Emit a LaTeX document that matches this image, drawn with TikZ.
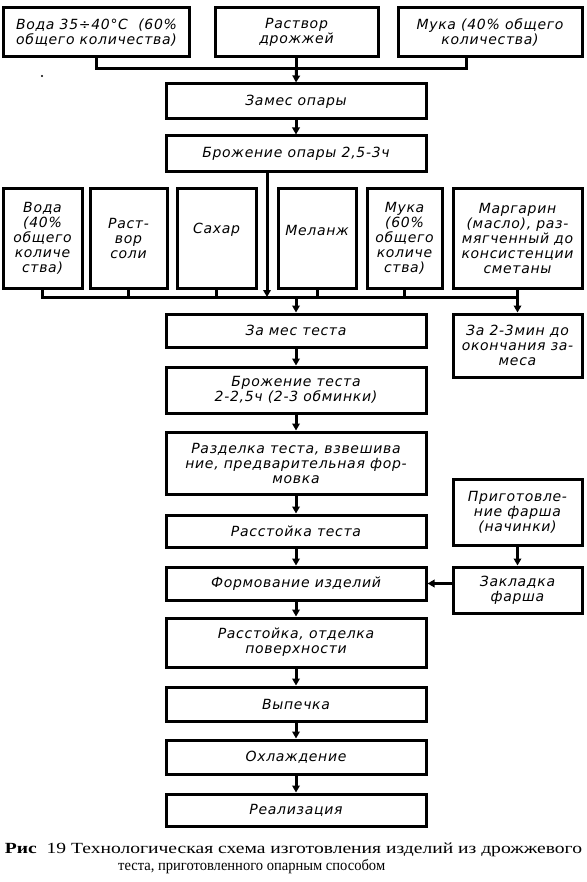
\documentclass[tikz,border=0pt]{standalone}
\usepackage{fontspec}
\usepackage{graphicx}
\setmainfont{DejaVu Sans}
\newfontfamily\gost[LetterSpace=5]{DejaVu Sans Oblique}
\newfontfamily\capserif{Liberation Serif}
\usetikzlibrary{arrows.meta}
\tikzset{
  bx/.style={draw, line width=3pt, inner sep=1pt, align=center,
    font=\gost\fontsize{14}{15}\selectfont},
  tx/.style={inner sep=0pt, align=center, font=\gost\fontsize{14}{15}\selectfont},
  ln/.style={line width=3pt},
  arr/.style={line width=3pt, -{Triangle[length=7pt,width=7.5pt]}},
  capt/.style={inner sep=0pt, font=\capserif\fontsize{15.5}{17}\selectfont}
}
\begin{document}
\begin{tikzpicture}[x=1pt,y=-1pt]
\useasboundingbox (0,0) rectangle (586,882);
% top row
\node[bx, minimum width=186pt, minimum height=49pt] (A) at (96.5,32.5) {Вода 35÷40°С \ (60\%\\общего количества)};
\node[bx, minimum width=163pt, minimum height=49pt] (B) at (296.5,32.5) {Раствор\\дрожжей};
\node[bx, minimum width=184pt, minimum height=49pt] (C) at (490,32.5) {Мука (40\% общего\\количества)};
\node[bx, minimum width=260pt, minimum height=35pt] (zo) at (296,101.5) {Замес опары};
\node[bx, minimum width=260pt, minimum height=36pt] (bo) at (296,154) {Брожение опары 2,5-3ч};
% middle row
\node[bx, minimum width=79pt, minimum height=99pt] (v2) at (42.5,238.5) {Вода\\(40\%\\общего\\количе\\ства)};
\node[bx, minimum width=77pt, minimum height=99pt] (rs) at (128.5,238.5) {Раст-\\вор\\соли};
\node[bx, minimum width=79pt, minimum height=99pt] (sa) at (216.5,238.5) {};
\node[tx] (saT) at (216.5,230) {Сахар};
\node[bx, minimum width=78pt, minimum height=99pt] (me) at (317,238.5) {};
\node[tx] (meT) at (317,230) {Меланж};
\node[bx, minimum width=75pt, minimum height=99pt] (mu) at (404.5,238.5) {Мука\\(60\%\\общего\\количе\\ства)};
\node[bx, minimum width=129pt, minimum height=99pt] (ma) at (517.5,238.5) {Маргарин\\(масло), раз-\\мягченный до\\консистенции\\сметаны};
% main column
\node[bx, minimum width=260pt, minimum height=33pt] (zt) at (296,330.5) {За мес теста};
\node[bx, minimum width=129pt, minimum height=63pt] (za) at (517.5,345.5) {За 2-3мин до\\окончания за-\\меса};
\node[bx, minimum width=260pt, minimum height=46pt] (bt) at (296,390) {Брожение теста\\2-2,5ч (2-3 обминки)};
\node[bx, minimum width=260pt, minimum height=62pt] (rz) at (296,463) {Разделка теста, взвешива\\ние, предварительная фор-\\мовка};
\node[bx, minimum width=129pt, minimum height=66pt] (pf) at (517.5,512) {Приготовле-\\ние фарша\\(начинки)};
\node[bx, minimum width=260pt, minimum height=32pt] (rt) at (296,531) {Расстойка теста};
\node[bx, minimum width=260pt, minimum height=33pt] (fi) at (296,583.5) {Формование изделий};
\node[bx, minimum width=129pt, minimum height=46pt] (zf) at (517.5,590) {Закладка\\фарша};
\node[bx, minimum width=260pt, minimum height=49pt] (ro) at (296,642.5) {Расстойка, отделка\\поверхности};
\node[bx, minimum width=260pt, minimum height=34pt] (vy) at (296,704) {Выпечка};
\node[bx, minimum width=260pt, minimum height=34pt] (oh) at (296,757) {Охлаждение};
\node[bx, minimum width=260pt, minimum height=32pt] (re) at (296,810) {Реализация};
% top bus
\coordinate (t) at (296,69);
\coordinate (cc) at (466,57);
\draw[ln] (A.south) |- (cc |- t) -- (C.south -| cc);
\draw[ln] (B.south) -- (B.south |- t);
\draw[arr] (B.south |- t) -- (zo.north);
\draw[arr] (zo.south) -- (bo.north);
% middle bus
\coordinate (m) at (296,297);
\coordinate (vx) at (267,172);
\draw[ln] (v2.south) |- (ma.south |- m) -- (ma.south);
\draw[ln] (rs.south) -- (rs.south |- m);
\draw[ln] (sa.south) -- (sa.south |- m);
\draw[ln] (me.south) -- (me.south |- m);
\draw[ln] (mu.south) -- (mu.south |- m);
\draw[arr] (bo.south -| vx) -- (vx |- m);
\draw[arr] (zt.north |- m) -- (zt.north);
\draw[arr] (za.north |- m) -- (za.north);
% main chain
\draw[arr] (zt.south) -- (bt.north);
\draw[arr] (bt.south) -- (rz.north);
\draw[arr] (rz.south) -- (rt.north);
\draw[arr] (rt.south) -- (fi.north);
\draw[arr] (fi.south) -- (ro.north);
\draw[arr] (ro.south) -- (vy.north);
\draw[arr] (vy.south) -- (oh.north);
\draw[arr] (oh.south) -- (re.north);
\draw[arr] (pf.south) -- (zf.north);
\draw[arr] (zf.west |- fi.east) -- (fi.east);
% speck
\fill (42,76) circle (1.1pt);
% caption
\node[capt] (cap1) at (293.5,850) {\resizebox{577pt}{\height}{\textbf{Рис}\ \ 19 Технологическая схема изготовления изделий из дрожжевого}};
\node[capt, anchor=west] (cap2) at (118,867) {\resizebox{267pt}{\height}{теста, приготовленного опарным способом}};
\end{tikzpicture}
\end{document}
